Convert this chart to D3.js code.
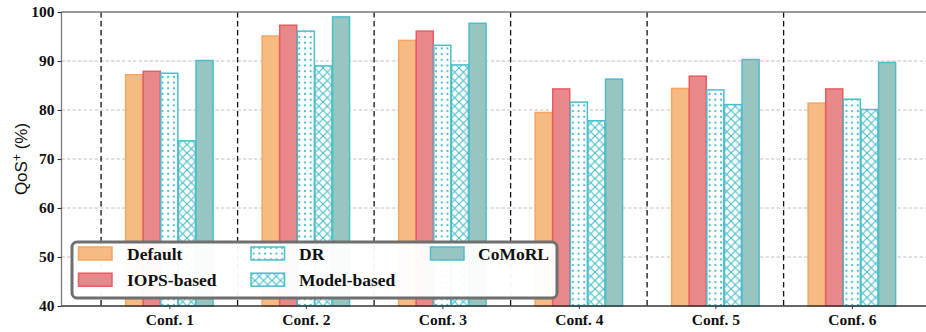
<!DOCTYPE html>
<html><head><meta charset="utf-8">
<script src="https://cdn.jsdelivr.net/npm/d3@7"></script>
<style>body{margin:0;background:#fff}svg{display:block}</style>
</head><body>
<svg id="chart" width="926" height="332"></svg>
<script>
const categories = ["Conf. 1","Conf. 2","Conf. 3","Conf. 4","Conf. 5","Conf. 6"];
const seriesNames = ["Default","IOPS-based","DR","Model-based","CoMoRL"];
const defaultVals = [87.2, 95.1, 94.2, 79.5, 84.4, 81.4];
const iopsVals    = [87.9, 97.3, 96.1, 84.3, 86.9, 84.3];
const drVals      = [87.5, 96.1, 93.2, 81.6, 84.1, 82.2];
const modelVals   = [73.7, 89.0, 89.2, 77.8, 81.1, 80.1];
const comorlVals  = [90.1, 99.0, 97.7, 86.3, 90.3, 89.7];
const yTicks = [40,50,60,70,80,90,100];

const series = [
  {name:seriesNames[0], vals:defaultVals, fill:"#F5BB82", stroke:"#F7A55F"},
  {name:seriesNames[1], vals:iopsVals, fill:"#E8888B", stroke:"#E65D63"},
  {name:seriesNames[2], vals:drVals, fill:"url(#dots)", stroke:"#4BBDCB"},
  {name:seriesNames[3], vals:modelVals, fill:"url(#cross)", stroke:"#4BBDCB"},
  {name:seriesNames[4], vals:comorlVals, fill:"#97C6C0", stroke:"#4BBDCB"}
];

const svg = d3.select("#chart");
const defs = svg.append("defs");
const cyan = "#45BCCB";
const pd = defs.append("pattern").attr("id","dots").attr("patternUnits","userSpaceOnUse")
  .attr("width",5.7).attr("height",5.7);
pd.append("rect").attr("width",5.7).attr("height",5.7).attr("fill","#fff");
pd.append("circle").attr("cx",2.85).attr("cy",2.85).attr("r",1.1).attr("fill",cyan);
const pc = defs.append("pattern").attr("id","cross").attr("patternUnits","userSpaceOnUse")
  .attr("width",8.5).attr("height",8.5);
pc.append("rect").attr("width",8.5).attr("height",8.5).attr("fill","#fff");
pc.append("path").attr("d","M0,0L8.5,8.5M0,8.5L8.5,0").attr("stroke",cyan).attr("stroke-width",1.1);

const x = d3.scaleLinear().domain([-0.79, 5.79]).range([61.5, 959.7]);
const y = d3.scaleLinear().domain([40,100]).range([306,12]);
const barStep = 0.129;
const barW = x(barStep) - x(0);

// grid
svg.append("g").selectAll("line").data(yTicks.filter(t=>t>40&&t<100)).join("line")
  .attr("x1",61.5).attr("x2",926).attr("y1",d=>y(d)).attr("y2",d=>y(d))
  .attr("stroke","#bbb").attr("stroke-width",0.9).attr("stroke-dasharray","3.5,2");

// separators
svg.append("g").selectAll("line").data(categories.map((c,i)=>i-0.5)).join("line")
  .attr("x1",d=>x(d)).attr("x2",d=>x(d)).attr("y1",y(100)).attr("y2",y(40))
  .attr("stroke","#111").attr("stroke-width",1.3).attr("stroke-dasharray","5.5,3.5");

// bars
series.forEach((s,j)=>{
  svg.append("g").selectAll("rect").data(s.vals).join("rect")
    .attr("x",(d,i)=>x(i+(j-2)*barStep)-barW/2+0.3)
    .attr("width",barW-0.6)
    .attr("y",d=>y(d))
    .attr("height",d=>y(40)-y(d))
    .attr("fill",s.fill).attr("stroke",s.stroke).attr("stroke-width",1.5);
});

// axes spines
svg.append("line").attr("x1",61.5).attr("x2",926).attr("y1",y(100)).attr("y2",y(100)).attr("stroke","#777").attr("stroke-width",1.3);
svg.append("line").attr("x1",61.5).attr("x2",61.5).attr("y1",y(100)).attr("y2",y(40)).attr("stroke","#777").attr("stroke-width",1.3);

const yAxis = svg.append("g").attr("transform","translate(61.5,0)")
  .call(d3.axisLeft(y).tickValues(yTicks).tickSize(4).tickPadding(3));
yAxis.select(".domain").remove();
yAxis.selectAll(".tick line").attr("stroke","#333").attr("stroke-width",1.1);
yAxis.selectAll("text").attr("font-family","'Liberation Serif','Times New Roman',serif")
  .attr("font-weight","bold").attr("font-size",15.5).attr("fill","#111");

const xAxis = svg.append("g").attr("transform",`translate(0,${y(40)})`)
  .call(d3.axisBottom(x).tickValues(categories.map((c,i)=>i)).tickFormat(i=>categories[i]).tickSize(3).tickPadding(5));
xAxis.select(".domain").remove();
xAxis.selectAll(".tick line").attr("stroke","#333");
xAxis.selectAll("text").attr("font-family","'Liberation Serif','Times New Roman',serif")
  .attr("font-weight","bold").attr("font-size",15.5).attr("fill","#111");
svg.append("line").attr("x1",61.5).attr("x2",926).attr("y1",y(40)).attr("y2",y(40)).attr("stroke","#333").attr("stroke-width",1.3);

// y label
const yl = svg.append("text").attr("transform",`translate(27,${(y(100)+y(40))/2}) rotate(-90)`)
  .attr("text-anchor","middle").attr("font-family","'Liberation Sans',Arial,sans-serif")
  .attr("font-size",17).attr("fill","#111");
yl.append("tspan").text("QoS");
yl.append("tspan").attr("font-size",12).attr("dy",-6).text("+");
yl.append("tspan").attr("dy",6).text(" (%)");

// legend
const lg = svg.append("g");
lg.append("rect").attr("x",72).attr("y",242).attr("width",485).attr("height",56).attr("rx",5)
  .attr("fill","#fff").attr("fill-opacity",0.95).attr("stroke","#6f6f6f").attr("stroke-width",3);
const legPos = [
  {px:78.5, ty:253.5, tx:127},
  {px:78.5, ty:279.7, tx:127},
  {px:251, ty:253.5, tx:299},
  {px:251, ty:279.7, tx:299},
  {px:430.5, ty:253.5, tx:478}
];
series.forEach((s,j)=>{
  const p = legPos[j];
  lg.append("rect").attr("x",p.px).attr("y",p.ty-6.5).attr("width",33.5).attr("height",13)
    .attr("fill",s.fill).attr("stroke",s.stroke).attr("stroke-width",1.5);
  lg.append("text").attr("x",p.tx).attr("y",p.ty+6).text(s.name)
    .attr("font-family","'Liberation Serif','Times New Roman',serif").attr("font-weight","bold")
    .attr("font-size",17.5).attr("fill","#111");
});
</script>
</body></html>
